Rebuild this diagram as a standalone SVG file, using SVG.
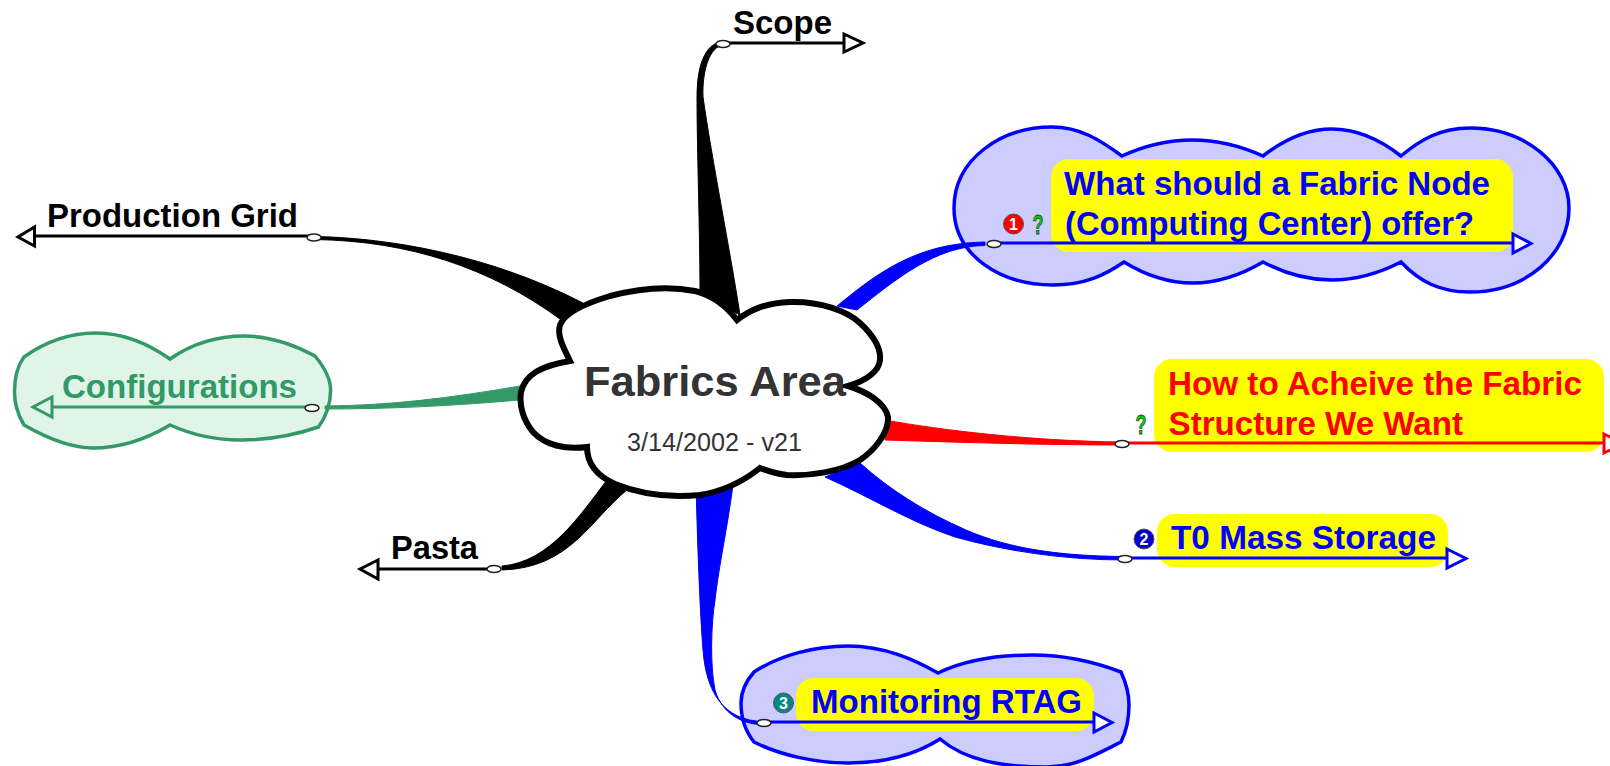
<svg xmlns="http://www.w3.org/2000/svg" width="1610" height="766" viewBox="0 0 1610 766">
<style>
text{font-family:"Liberation Sans",Arial,sans-serif;font-weight:bold;font-size:33px}
.k{fill:#000}.b{fill:#00f}.r{fill:#f00}.g{fill:#396}
.lk{stroke:#000}.lb{stroke:#00f}.lr{stroke:#f00}.lg{stroke:#396}
.ln{fill:none;stroke-width:3}
.ar{fill:#fff;stroke-width:3}
.dot{fill:#fff;stroke:#222;stroke-width:1.5}
.hl{fill:#ff0}
.num{font-size:16px;fill:#fff;text-anchor:middle}
.q{font-size:28px;fill:#0c0;stroke:#333;stroke-width:.8}
#connectors path{stroke-width:1;stroke-linejoin:round}
</style>
<g id="node-scope">
<text class="k" x="733" y="34" textLength="99" lengthAdjust="spacingAndGlyphs">Scope</text>
<path class="ln lk" d="M723,43H843"/>
<polygon class="ar lk" points="844,34 863,43 844,52"/>
</g>
<g id="node-production-grid">
<text class="k" x="47" y="227" textLength="251" lengthAdjust="spacingAndGlyphs">Production Grid</text>
<path class="ln lk" d="M313,236H34"/>
<polygon class="ar lk" points="34.500,227 18,237 34.500,246"/>
</g>
<g id="node-configurations">
<path d="M14.500,392 C14.500,375 18,365 24,357 C45,342 70,333 96,333 C125,333 150,345 170,359 C190,345 215,336 244.500,336 C270,336 295,345 315,356 C325,368 330.600,378 330.600,390 C330.600,405 325,418 318.500,427 C295,435 270,440 241,440 C215,440 190,434 170,425 C150,437 125,448 93,448 C70,448 45,437 24,425 C18,415 14.500,405 14.500,392 Z" fill="#e0f5e8" stroke="#396" stroke-width="3.500"/>
<text class="g" x="62" y="398" textLength="235" lengthAdjust="spacingAndGlyphs">Configurations</text>
<path class="ln lg" d="M312,407H52"/>
<polygon class="ar lg" points="52,397 33,407 52,417" style="fill:#e0f5e8"/>
</g>
<g id="node-pasta">
<text class="k" x="391" y="559" textLength="87" lengthAdjust="spacingAndGlyphs">Pasta</text>
<path class="ln lk" d="M494,569H378"/>
<polygon class="ar lk" points="378,560 360,569 378,579"/>
</g>
<g id="node-fabric-node">
<path d="M954,208 C954,160 1000,127 1052,127 C1080,127 1100,140 1122,156 Q1192,124 1263,156 Q1332,102 1401,156 C1420,140 1440,128 1470,128 C1525,128 1569,165 1569,208 C1569,255 1525,292 1470,292 C1440,292 1420,282 1401,262 Q1331,298 1263,262 Q1192,304 1124,262 C1105,275 1085,285 1053,285 C1000,285 954,255 954,208 Z" fill="#ccf" stroke="#00f" stroke-width="3.500"/>
<rect class="hl" x="1051" y="159" width="462" height="93" rx="18"/>
<text class="b" x="1064" y="195" textLength="426" lengthAdjust="spacingAndGlyphs">What should a Fabric Node</text>
<text class="b" x="1065" y="235" textLength="409" lengthAdjust="spacingAndGlyphs">(Computing Center) offer?</text>
<path class="ln lb" d="M993,243H1513"/>
<polygon class="ar lb" points="1513,234 1531,243.500 1513,253"/>
<circle cx="1013.500" cy="224" r="10" fill="#f00" stroke="#555"/>
<text class="num" x="1013.500" y="230">1</text>
<text class="q" x="1032.500" y="234" textLength="11" lengthAdjust="spacingAndGlyphs">?</text>
</g>
<g id="node-fabric-structure">
<rect class="hl" x="1154" y="359" width="450" height="93" rx="18"/>
<text class="r" x="1168" y="395" textLength="414" lengthAdjust="spacingAndGlyphs">How to Acheive the Fabric</text>
<text class="r" x="1168.600" y="435" textLength="294.400" lengthAdjust="spacingAndGlyphs">Structure We Want</text>
<path class="ln lr" d="M1122,443H1603"/>
<polygon class="ar lr" points="1604,434 1624,443.500 1604,453"/>
<text class="q" x="1135.500" y="434" textLength="11" lengthAdjust="spacingAndGlyphs">?</text>
</g>
<g id="node-mass-storage">
<rect class="hl" x="1157" y="514" width="291" height="53" rx="18"/>
<text class="b" x="1171" y="549" textLength="265" lengthAdjust="spacingAndGlyphs">T0 Mass Storage</text>
<path class="ln lb" d="M1125,558H1447"/>
<polygon class="ar lb" points="1447,549 1466,558.500 1447,568"/>
<circle cx="1144" cy="539" r="10" fill="#00c" stroke="#555"/>
<text class="num" x="1144" y="545">2</text>
</g>
<g id="node-monitoring">
<path d="M741,703 C741,690 747,680 754,672 C780,655 815,646 848,646 C885,646 915,660 938,673 C965,660 1000,655 1032,655 C1065,655 1095,662 1121,672 C1127,685 1129,695 1129,705 C1129,720 1126,732 1121,742 C1095,755 1075,767 1047,767 C1000,767 965,760 940,739 C915,755 885,763 848,763 C815,763 780,755 754,742 C746,732 741,718 741,703 Z" fill="#ccf" stroke="#00f" stroke-width="3.500"/>
<rect class="hl" x="796" y="678" width="298" height="53" rx="18"/>
<text class="b" x="811" y="713" textLength="271" lengthAdjust="spacingAndGlyphs">Monitoring RTAG</text>
<path class="ln lb" d="M764,722H1094"/>
<polygon class="ar lb" points="1094,713 1112,722.500 1094,732"/>
<circle cx="783.500" cy="703" r="10" fill="#088" stroke="#555"/>
<text class="num" x="783.500" y="709">3</text>
</g>
<g id="connectors">
<path class="k lk" d="M315,236.500 C390,238 490,255 583,303 L560,319 C490,268 410,241 315,239.500 Z"/>
<path class="g lg" d="M325,406 C390,405.500 450,398 520,386 L520,400 C450,406 390,409 325,409 Z"/>
<path class="k lk" d="M502,566 C550,562 580,515 607,480 L627,490 C590,520 570,568 502,570 Z"/>
<path class="k lk" d="M723,42 C708,42 697,60 697,97 C697,150 700,230 700,295 L740,315 C730,250 712,160 703,97 C702,70 710,46 723,45.500 Z"/>
<path class="b lb" d="M837,306 C875,275 915,243 985,242 L985,245.500 C935,246 895,280 857,310 Z"/>
<path class="r lr" d="M885,420 C940,430 1030,441 1122,442 L1122,445 C1040,445 950,442 885,440 Z"/>
<path class="b lb" d="M860,463 C890,490 925,512 966,530 C1010,549 1060,556 1125,556.500 L1125,560 C1065,560 1005,551 955,537 C910,522 870,497 825,477 Z"/>
<path class="b lb" d="M696,485 C698,560 700,610 703,650 C706,690 722,721 764,721.500 L764,724.500 C743,725 722,714 715,690 C710,665 711,625 715,600 C719,565 727,530 733,485 Z"/>
<ellipse id="handle-scope" class="dot" cx="723" cy="44" rx="7" ry="3.5"/>
<ellipse id="handle-production-grid" class="dot" cx="314" cy="237.500" rx="7" ry="3.5"/>
<ellipse id="handle-configurations" class="dot" cx="312" cy="408" rx="7" ry="3.5"/>
<ellipse id="handle-pasta" class="dot" cx="494" cy="569" rx="7" ry="3.5"/>
<ellipse id="handle-fabric-node" class="dot" cx="994" cy="244" rx="7" ry="3.5"/>
<ellipse id="handle-fabric-structure" class="dot" cx="1122" cy="444" rx="7" ry="3.5"/>
<ellipse id="handle-mass-storage" class="dot" cx="1125" cy="559" rx="7" ry="3.5"/>
<ellipse id="handle-monitoring" class="dot" cx="764" cy="723" rx="7" ry="3.5"/>
</g>
<g id="central-topic">
<path d="M737,320 C750,310 765,303 790,302 C820,301 847,311 860,323 C875,337 881,350 880,360 C879,372 865,381 848,386 C865,391 885,402 888,417 C889,432 875,450 860,460 C840,472 810,476 787,475 C778,474 768,471 760,468 C745,480 725,491 700,495 C670,498 640,494 615,484 C595,475 587,462 587,447 C565,450 545,445 533,432 C523,420 519,405 521,392 C525,375 540,366 570,361 C562,345 557,335 560,325 C565,312 590,302 610,296 C640,288 670,286 695,291 C715,296 728,308 737,320 Z" fill="#fff" stroke="#000" stroke-width="6"/>
<text x="584" y="396" style="font-size:43px" fill="#333" textLength="262" lengthAdjust="spacingAndGlyphs">Fabrics Area</text>
<text x="627" y="451" style="font-size:25px;font-weight:normal" fill="#333" textLength="175" lengthAdjust="spacingAndGlyphs">3/14/2002 - v21</text>
</g>
</svg>
